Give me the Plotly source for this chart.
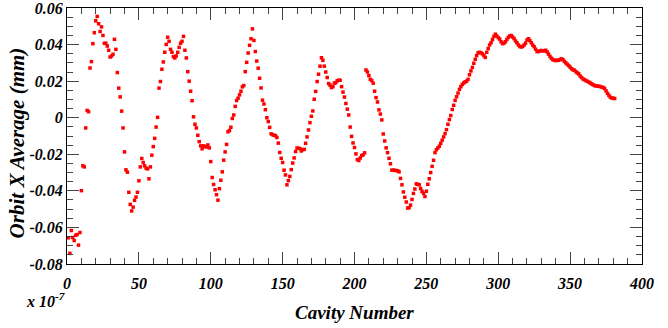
import plotly.graph_objects as go

# Cavity index and orbit X average (mm)
cavity = list(range(1, 382))
orbit_x = [
    -0.0657, -0.0742, -0.0617, -0.0655, -0.0672, -0.0643, -0.0639, -0.0697, -0.0628, -0.0399,
    -0.0263, -0.0269, -0.0056, 0.0040, 0.0033, 0.0272, 0.0307, 0.0405, 0.0465, 0.0530,
    0.0554, 0.0514, 0.0472, 0.0497, 0.0450, 0.0407, 0.0407, 0.0392, 0.0369, 0.0332,
    0.0338, 0.0347, 0.0429, 0.0374, 0.0247, 0.0162, 0.0114, 0.0036, -0.0056, -0.0187,
    -0.0285, -0.0298, -0.0408, -0.0474, -0.0510, -0.0489, -0.0452, -0.0434, -0.0408, -0.0345,
    -0.0269, -0.0223, -0.0245, -0.0263, -0.0276, -0.0280, -0.0334, -0.0269, -0.0205, -0.0158,
    -0.0113, -0.0051, 0.0002, 0.0162, 0.0198, 0.0265, 0.0305, 0.0358, 0.0401, 0.0440,
    0.0418, 0.0374, 0.0358, 0.0334, 0.0327, 0.0338, 0.0358, 0.0385, 0.0407, 0.0418,
    0.0445, 0.0369, 0.0327, 0.0252, 0.0200, 0.0145, 0.0093, 0.0005, -0.0036, -0.0056,
    -0.0096, -0.0131, -0.0154, -0.0170, -0.0154, -0.0158, -0.0160, -0.0149, -0.0165, -0.0240,
    -0.0327, -0.0365, -0.0394, -0.0421, -0.0451, -0.0388, -0.0342, -0.0296, -0.0232, -0.0187,
    -0.0146, -0.0077, -0.0070, -0.0052, -0.0004, 0.0015, 0.0062, 0.0094, 0.0107, 0.0125,
    0.0145, 0.0169, 0.0176, 0.0252, 0.0303, 0.0354, 0.0396, 0.0432, 0.0486, 0.0423,
    0.0362, 0.0310, 0.0271, 0.0216, 0.0163, 0.0096, 0.0075, 0.0044, 0.0000, -0.0021,
    -0.0053, -0.0088, -0.0093, -0.0096, -0.0098, -0.0108, -0.0139, -0.0190, -0.0222, -0.0245,
    -0.0287, -0.0313, -0.0367, -0.0344, -0.0321, -0.0284, -0.0248, -0.0220, -0.0185, -0.0166,
    -0.0167, -0.0169, -0.0182, -0.0175, -0.0173, -0.0140, -0.0105, -0.0067, -0.0027, 0.0008,
    0.0037, 0.0101, 0.0144, 0.0198, 0.0238, 0.0282, 0.0328, 0.0314, 0.0282, 0.0250,
    0.0220, 0.0187, 0.0178, 0.0165, 0.0170, 0.0189, 0.0192, 0.0202, 0.0205, 0.0205,
    0.0170, 0.0140, 0.0113, 0.0078, 0.0047, 0.0015, -0.0051, -0.0102, -0.0138, -0.0163,
    -0.0198, -0.0229, -0.0234, -0.0220, -0.0207, -0.0203, -0.0192, 0.0261, 0.0250, 0.0230,
    0.0210, 0.0203, 0.0189, 0.0145, 0.0110, 0.0086, 0.0043, 0.0020, -0.0012, -0.0089,
    -0.0127, -0.0165, -0.0191, -0.0222, -0.0252, -0.0287, -0.0287, -0.0288, -0.0289, -0.0290,
    -0.0296, -0.0332, -0.0367, -0.0406, -0.0435, -0.0461, -0.0494, -0.0492, -0.0478, -0.0447,
    -0.0414, -0.0390, -0.0362, -0.0364, -0.0367, -0.0387, -0.0403, -0.0414, -0.0431, -0.0402,
    -0.0364, -0.0334, -0.0300, -0.0266, -0.0233, -0.0191, -0.0175, -0.0165, -0.0156, -0.0140,
    -0.0123, -0.0105, -0.0087, -0.0065, -0.0036, -0.0010, 0.0012, 0.0045, 0.0068, 0.0095,
    0.0115, 0.0135, 0.0155, 0.0170, 0.0182, 0.0190, 0.0196, 0.0200, 0.0210, 0.0235,
    0.0256, 0.0275, 0.0298, 0.0320, 0.0340, 0.0355, 0.0358, 0.0355, 0.0349, 0.0340,
    0.0330, 0.0358, 0.0378, 0.0398, 0.0410, 0.0428, 0.0445, 0.0457, 0.0447, 0.0438,
    0.0430, 0.0415, 0.0405, 0.0408, 0.0416, 0.0428, 0.0440, 0.0447, 0.0450, 0.0442,
    0.0433, 0.0420, 0.0410, 0.0398, 0.0390, 0.0387, 0.0390, 0.0398, 0.0408, 0.0425,
    0.0432, 0.0422, 0.0410, 0.0398, 0.0388, 0.0375, 0.0362, 0.0362, 0.0365, 0.0368,
    0.0366, 0.0366, 0.0369, 0.0360, 0.0348, 0.0335, 0.0325, 0.0318, 0.0314, 0.0313,
    0.0314, 0.0314, 0.0318, 0.0322, 0.0318, 0.0308, 0.0300, 0.0292, 0.0285, 0.0277,
    0.0268, 0.0262, 0.0260, 0.0252, 0.0245, 0.0240, 0.0228, 0.0220, 0.0212, 0.0208,
    0.0203, 0.0199, 0.0195, 0.0190, 0.0185, 0.0180, 0.0176, 0.0174, 0.0173, 0.0172,
    0.0170, 0.0168, 0.0165, 0.0160, 0.0147, 0.0133, 0.0122, 0.0112, 0.0108, 0.0106,
    0.0105,
]

x_tick_vals = [0, 50, 100, 150, 200, 250, 300, 350, 400]
x_tick_text = ["0", "50", "100", "150", "200", "250", "300", "350", "400"]
y_tick_vals = [-0.08, -0.06, -0.04, -0.02, 0, 0.02, 0.04, 0.06]
y_tick_text = ["-0.08", "-0.06", "-0.04", "-0.02", "0", "0.02", "0.04", "0.06"]

FONT = "Liberation Serif, Times New Roman, serif"

fig = go.Figure()
fig.add_trace(go.Scatter(
    x=cavity, y=orbit_x, mode="markers",
    marker=dict(symbol="square", size=3.5, color="#ff0000", line=dict(width=0)),
    showlegend=False,
))

axis_common = dict(
    showline=True, linecolor="black", linewidth=1, mirror="ticks",
    ticks="inside", tickcolor="#444444", tickwidth=1,
    showgrid=False, zeroline=False, ticklabeloverflow="allow", automargin=False,
    tickfont=dict(family=FONT, size=16, color="black", weight="bold", style="italic"),
)

fig.update_xaxes(
    range=[-0.01, 400.01], tickvals=x_tick_vals, ticktext=x_tick_text, ticklen=12,
    minor=dict(dtick=10, tick0=0, ticklen=6, ticks="inside", tickcolor="#444444", tickwidth=1, showgrid=False),
    ticklabelstandoff=5,
    **axis_common,
)
fig.update_yaxes(
    range=[-0.08002, 0.06002], tickvals=y_tick_vals, ticktext=y_tick_text, ticklen=12,
    minor=dict(dtick=0.005, tick0=0, ticklen=6, ticks="inside", tickcolor="#444444", tickwidth=1, showgrid=False),
    **axis_common,
)

title_font = dict(family=FONT, size=19, color="black", weight="bold", style="italic")
fig.update_layout(
    width=668, height=328,
    margin=dict(l=67, r=26, t=8, b=64),
    paper_bgcolor="white", plot_bgcolor="white",
    annotations=[
        dict(text="Cavity Number", xref="paper", yref="paper", x=0.5, y=-0.19,
             xanchor="center", yanchor="middle", showarrow=False, font=title_font),
        dict(text="Orbit X Average (mm)", xref="paper", yref="paper", x=-0.087, y=0.475,
             xanchor="center", yanchor="middle", textangle=-90, showarrow=False,
             font=dict(family=FONT, size=21, color="black", weight="bold", style="italic")),
        dict(text="x 10<sup>-7</sup>", xref="paper", yref="paper", x=-0.075, y=-0.095,
             xanchor="left", yanchor="top", showarrow=False,
             font=dict(family=FONT, size=16, color="black", weight="bold", style="italic")),
    ],
)

fig.write_html("out.html")
